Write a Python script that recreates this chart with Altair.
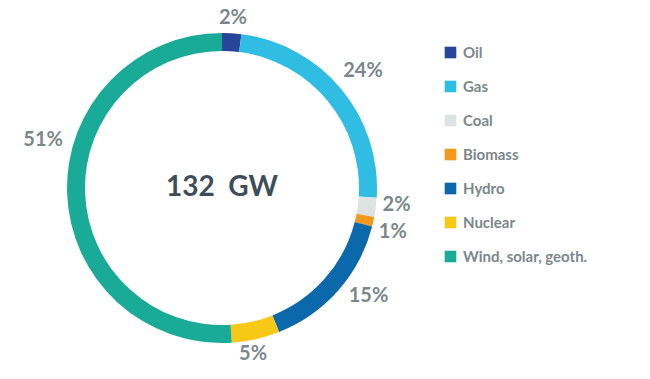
import altair as alt
import pandas as pd

sources = ["Oil", "Gas", "Coal", "Biomass", "Hydro", "Nuclear", "Wind, solar, geoth."]
shares = [2, 24, 2, 1, 15, 5, 51]
labels = ["2%", "24%", "2%", "1%", "15%", "5%", "51%"]
colors = ["#27459a", "#2fbde3", "#dde3e3", "#f39a1e", "#0b69ab", "#f8c816", "#19ab98"]
center_text = "132\u00a0\u00a0GW"

df = pd.DataFrame({"source": sources, "share": shares, "label": labels,
                   "idx": list(range(len(sources)))})

cx, cy = 214, 180

theta = alt.Theta("share:Q", stack=True)
order = alt.Order("idx:Q")
color = alt.Color("source:N", sort=sources,
                  scale=alt.Scale(domain=sources, range=colors),
                  legend=alt.Legend(title=None, orient="none", legendX=435, legendY=37,
                                    symbolType="square", symbolSize=135,
                                    symbolStrokeWidth=0, labelFontSize=15,
                                    labelFont="Lato", labelFontWeight="bold",
                                    labelColor="#7b878b", rowPadding=18,
                                    labelOffset=5, labelLimit=300))

base = alt.Chart(df).encode(theta=theta, order=order)

arcs = base.mark_arc(outerRadius=155, innerRadius=137, strokeWidth=0).encode(
    color=color, x=alt.value(cx), y=alt.value(cy))

# per-label placement: (radius, dx, dy)
placement = {
    "Oil": (174, 0, 4),
    "Gas": (183, 0, 0),
    "Coal": (176, 0, -5),
    "Biomass": (175, 0, 6),
    "Hydro": (182, 10, -12),
    "Nuclear": (170, -6, 0),
    "Wind, solar, geoth.": (176, -3, -54),
}

text_layers = []
for src, (r, dx, dy) in placement.items():
    text_layers.append(
        base.mark_text(radius=r, dx=dx, dy=dy, fontSize=20, font="Lato",
                       fontWeight="bold", color="#7b878b").encode(
            text="label:N", x=alt.value(cx), y=alt.value(cy),
            opacity=alt.condition(alt.datum.source == src, alt.value(1), alt.value(0)))
    )

center = alt.Chart(pd.DataFrame({"t": [center_text]})).mark_text(
    fontSize=28, font="Lato", fontWeight="bold", color="#3d4d5a").encode(
    text="t:N", x=alt.value(cx), y=alt.value(cy))

chart = alt.layer(arcs, *text_layers, center).properties(
    width=634, height=363, autosize=alt.AutoSizeParams(type="none"), padding=0,
    background="white"
).configure_view(stroke=None, strokeWidth=0)

chart.save("out.html", embed_options={"renderer": "svg", "actions": False})
